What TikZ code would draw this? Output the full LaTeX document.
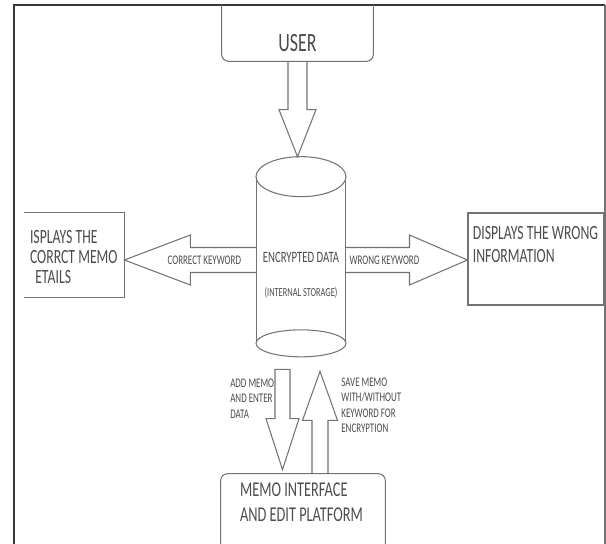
\documentclass[tikz,border=0pt]{standalone}
\usepackage{fontspec}
\setmainfont{Carlito}[FakeStretch=0.68]
\usetikzlibrary{positioning, calc}

\definecolor{edgegray}{gray}{0.45}
\definecolor{inkgray}{gray}{0.3}
\definecolor{framegray}{gray}{0.22}

\begin{document}
\begin{tikzpicture}[
x=0.02cm, y=-0.02cm,
box/.style={rectangle, inner sep=0pt},
outline/.style={draw=edgegray, line width=0.6pt},
fat/.style={draw=edgegray, line width=0.6pt, line join=miter},
boxtext/.style={anchor=north west, align=left, inner sep=0pt, text=inkgray, font=\fontsize{11.5}{13}\selectfont},
small/.style={inner sep=0pt, text=inkgray, font=\fontsize{7.5}{8.8}\selectfont}
]
\useasboundingbox (0,0) rectangle (606,544);

% Frame
\coordinate (ftop) at (300,5);
\draw[framegray, line width=1.2pt] (14,544) -- (14,5) -- (605,5);
\draw[edgegray, line width=0.6pt] (605,5) -- (605,544);

% User
\node[box, minimum width=3.02cm, minimum height=0.72cm, text=inkgray, font=\fontsize{15}{18}\selectfont] (user) at (297.5,43) {USER};
\draw[outline, rounded corners=4pt] (user.west |- ftop) -- (user.south west) -- (user.south east) -- (user.east |- ftop);

% Encrypted data store
\node[box, minimum width=1.76cm, minimum height=3.32cm] (data) at (301,260) {};
\draw[outline] (data.north west) -- (data.south west) (data.north east) -- (data.south east);
\draw[outline] (data.north) ellipse [x radius=45, y radius=20];
\draw[outline] (data.south) ellipse [x radius=45, y radius=13.5];
\node[small, font=\fontsize{9}{11}\selectfont] (enc) at (301,257) {ENCRYPTED DATA};
\node[small, font=\fontsize{7}{8}\selectfont] (store) at (301,293) {(INTERNAL STORAGE)};

% Correct memo box
\node[box, minimum width=2cm, minimum height=1.68cm] (correct) at (74,255) {};
\draw[outline] (correct.north west) -- (correct.north east) -- (correct.south east) -- (correct.south west);
\node[boxtext, font=\fontsize{11.5}{11.6}\selectfont] (correcttext) at ([shift={(6,17)}]correct.north west) {ISPLAYS THE\\CORRCT MEMO\\\hspace*{3pt}ETAILS};

% Wrong information box
\node[box, draw=edgegray, line width=0.6pt, minimum width=2.72cm, minimum height=1.84cm] (wrong) at (536,259) {};
\node[boxtext] (wrongtext) at ([shift={(5,14)}]wrong.north west) {DISPLAYS THE WRONG\\INFORMATION};

% Memo interface
\node[box, minimum width=3.28cm, minimum height=1.72cm] (memo) at (303,517) {};
\draw[outline, rounded corners=4pt] (memo.south west) -- (memo.north west) -- (memo.north east) -- (memo.south east);
\node[boxtext, font=\fontsize{12}{14.2}\selectfont] (memotext) at ([shift={(19,9)}]memo.north west) {MEMO INTERFACE\\AND EDIT PLATFORM};

% User -> data
\coordinate (ctop) at ($(data.north)+(0,-20)$);
\coordinate (utip) at (user.south |- ctop);
\draw[fat] ($(user.south)+(-9.5,0)$) -- ($(utip)+(-9.5,-47)$) -- ($(utip)+(-18.5,-47)$) -- (utip) -- ($(utip)+(18.5,-47)$) -- ($(utip)+(9.5,-47)$) -- ($(user.south)+(9.5,0)$);

% Data -> correct memo
\coordinate (ltip) at (correct.east |- data.west);
\draw[fat] ($(data.west)+(0,-12.5)$) -- ($(ltip)+(66,-12.5)$) -- ($(ltip)+(66,-25)$) -- (ltip) -- ($(ltip)+(66,25)$) -- ($(ltip)+(66,12.5)$) -- ($(data.west)+(0,12.5)$);
\node[small] (ckw) at ($(ltip)+(80,0)$) {CORRECT KEYWORD};

% Data -> wrong information
\coordinate (rtip) at (wrong.west |- data.east);
\draw[fat] ($(data.east)+(0,-12.5)$) -- ($(rtip)+(-58,-12.5)$) -- ($(rtip)+(-58,-25)$) -- (rtip) -- ($(rtip)+(-58,25)$) -- ($(rtip)+(-58,12.5)$) -- ($(data.east)+(0,12.5)$);
\node[small] (wkw) at ($(rtip)+(-83,0)$) {WRONG KEYWORD};

% Data -> memo interface
\coordinate (astart) at ($(data.south)+(-18.5,26)$);
\coordinate (atip) at ($(astart |- memo.north)+(0,-4)$);
\draw[fat] ($(astart)+(-7.5,0)$) -- ($(atip)+(-7.5,-51)$) -- ($(atip)+(-16.5,-51)$) -- (atip) -- ($(atip)+(16.5,-51)$) -- ($(atip)+(7.5,-51)$) -- ($(astart)+(7.5,0)$) -- cycle;
\node[small, anchor=north east, align=left] (addlbl) at ($(astart)+(-8,9)$) {ADD MEMO\\AND ENTER\\DATA};

% Memo interface -> data
\coordinate (sbase) at ($(memo.north)+(17,0)$);
\coordinate (stip) at ($(sbase |- astart)+(0,2)$);
\draw[fat] ($(sbase)+(-8,0)$) -- ($(stip)+(-8,49)$) -- ($(stip)+(-17.5,49)$) -- (stip) -- ($(stip)+(17.5,49)$) -- ($(stip)+(8,49)$) -- ($(sbase)+(8,0)$);
\node[small, anchor=north west, align=left] (savelbl) at ($(stip)+(21,6)$) {SAVE MEMO\\WITH/WITHOUT\\KEYWORD FOR\\ENCRYPTION};

\end{tikzpicture}
\end{document}
